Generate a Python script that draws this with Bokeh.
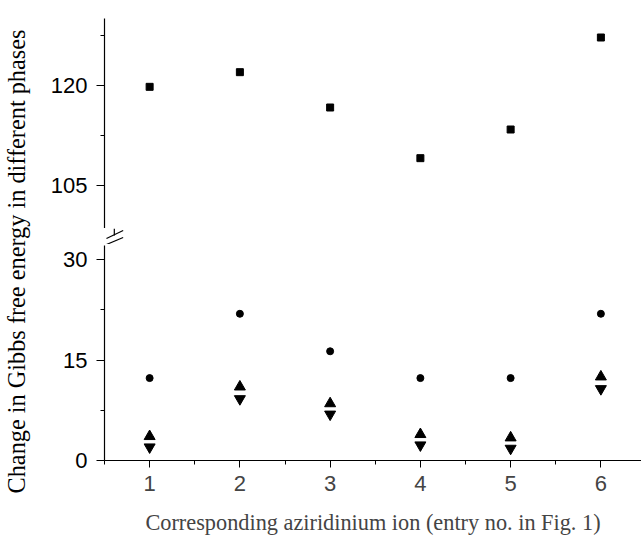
import math
from bokeh.plotting import figure
from bokeh.layouts import row, column
from bokeh.models import Range1d, FixedTicker, Label
from bokeh.embed import file_html
from bokeh.resources import INLINE

# ---- data ----
entries = [1, 2, 3, 4, 5, 6]
dg_square = [119.8, 122.0, 116.7, 109.1, 113.4, 127.2]
dg_circle = [12.3, 21.9, 16.3, 12.3, 12.3, 21.9]
dg_up = [3.6, 11.0, 8.5, 3.9, 3.4, 12.5]
dg_down = [2.0, 9.2, 6.9, 2.3, 1.8, 10.7]

x_ticks = [1, 2, 3, 4, 5, 6]
x_minor = [0.5, 1.5, 2.5, 3.5, 4.5, 5.5]
top_ticks = [105, 120]
top_minor = [112.5, 127.5]
bot_ticks = [0, 15, 30]
bot_minor = [7.5, 22.5]

x_label = "Corresponding aziridinium ion (entry no. in Fig. 1)"
y_label = "Change in Gibbs free energy in different phases"

# ---- geometry ----
LAB_W = 40
MAIN_W = 601
TOP_H = 228
MID_H = 16
BOT_H = 544 - TOP_H - MID_H
LEFT = 64
TOP_START, TOP_END = 98.55, 130.05
BOT_START, BOT_END = 0, 32.24
BOT_AXIS_TOP = 32.09
X_START, X_END = 0.5, 6.45

xr = Range1d(X_START, X_END)

TICK_FONT = "Liberation Sans"
TICK_SIZE = "22px"
LAB_FONT = "Liberation Serif"
AXW = 1.2


def style_yaxis(ax, ticks, minor):
    ax.ticker = FixedTicker(ticks=ticks, minor_ticks=minor)
    ax.axis_line_color = "black"
    ax.axis_line_width = AXW
    ax.major_tick_line_color = "black"
    ax.minor_tick_line_color = "black"
    ax.major_tick_in = 0
    ax.major_tick_out = 8
    ax.minor_tick_in = 0
    ax.minor_tick_out = 4
    ax.major_label_standoff = 9
    ax.major_label_text_font = TICK_FONT
    ax.major_label_text_font_size = TICK_SIZE
    ax.major_label_text_color = "black"


top = figure(width=MAIN_W, height=TOP_H, x_range=xr,
             y_range=Range1d(TOP_START, TOP_END),
             x_axis_location=None, output_backend="svg", toolbar_location=None,
             min_border_left=LEFT, min_border_right=0, min_border_top=18,
             min_border_bottom=0, outline_line_color=None)
top.grid.visible = False
style_yaxis(top.yaxis[0], top_ticks, top_minor)
top.scatter(entries, dg_square, marker="square", size=7, color="black")

bot = figure(width=MAIN_W, height=BOT_H, x_range=xr,
             y_range=Range1d(BOT_START, BOT_END),
             output_backend="svg", toolbar_location=None,
             min_border_left=LEFT, min_border_right=0, min_border_top=0,
             min_border_bottom=84, outline_line_color=None)
bot.grid.visible = False
style_yaxis(bot.yaxis[0], bot_ticks, bot_minor)
bot.yaxis[0].bounds = (BOT_START, BOT_AXIS_TOP)
xa = bot.xaxis[0]
xa.ticker = FixedTicker(ticks=x_ticks, minor_ticks=x_minor)
xa.axis_line_color = "black"
xa.axis_line_width = AXW
xa.major_tick_in = 0
xa.major_tick_out = 7
xa.minor_tick_in = 0
xa.minor_tick_out = 4
xa.major_label_standoff = 8
xa.major_label_text_font = TICK_FONT
xa.major_label_text_font_size = TICK_SIZE
xa.axis_label = x_label
xa.axis_label_text_font = LAB_FONT
xa.axis_label_text_font_size = "22.3px"
xa.axis_label_text_font_style = "normal"
xa.axis_label_standoff = 16

bot.scatter(entries, dg_circle, marker="circle", size=7, color="black")
bot.scatter(entries, dg_up, marker="triangle", size=11, color="black")
bot.scatter(entries, dg_down, marker="inverted_triangle", size=11, color="black")

# ---- axis-break strip (decoration, pixel coordinates) ----
MID_LEFT = 54
mid = figure(width=MAIN_W, height=MID_H, x_range=Range1d(0, MAIN_W - MID_LEFT),
             y_range=Range1d(MID_H, 0), x_axis_location=None, y_axis_location=None,
             output_backend="svg", toolbar_location=None,
             min_border_left=MID_LEFT, min_border_right=0, min_border_top=0,
             min_border_bottom=0, outline_line_color=None)
mid.grid.visible = False
ax_x = LEFT - MID_LEFT
# axis line stub above the break
mid.segment(x0=[ax_x], y0=[0], x1=[ax_x], y1=[7],
            line_color="black", line_width=AXW)
# the two slanted break marks
mid.segment(x0=[2, 2], y0=[10, 16], x1=[19, 19], y1=[2, 9],
            line_color="black", line_width=1.2)

# ---- y-axis title panel ----
lab = figure(width=LAB_W, height=544, x_range=Range1d(0, 1), y_range=Range1d(0, 1),
             x_axis_location=None, y_axis_location=None, output_backend="svg",
             toolbar_location=None, min_border=0, outline_line_color=None)
lab.grid.visible = False
lab.add_layout(Label(x=16 / LAB_W, y=1 - 261 / 544, text=y_label, angle=math.pi / 2,
                     text_align="center", text_baseline="middle",
                     text_font=LAB_FONT, text_font_size="24.3px", text_color="black"))

layout = row(lab, column(top, mid, bot))
open("out.html", "w").write(file_html(layout, INLINE))
